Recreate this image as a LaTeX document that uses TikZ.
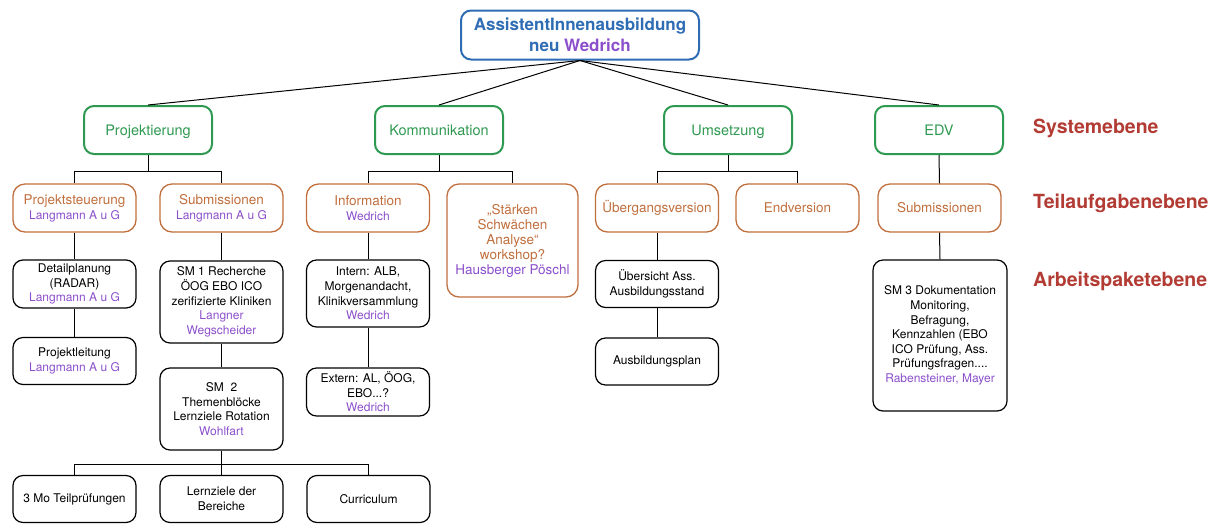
\documentclass[tikz,border=0pt]{standalone}
\usepackage{fontspec}
\setmainfont{TeX Gyre Heros}
\definecolor{blueT}{HTML}{2E6DB4}
\definecolor{greenT}{HTML}{2E9950}
\definecolor{orangeT}{HTML}{C06F3E}
\definecolor{purp}{HTML}{8B4FCB}
\definecolor{redL}{HTML}{B23B34}
\newcommand{\pu}[1]{{\color{purp}#1}}
\newcommand{\pus}[1]{{\color{purp}\fontsize{12}{15}\selectfont #1}}
\begin{document}
\begin{tikzpicture}[x=1pt,y=-1pt,
 box/.style={rectangle, rounded corners=10pt, align=center, inner sep=2pt},
 topbox/.style={box, draw=blueT, line width=2pt, minimum width=238pt, minimum height=49pt, text=blueT, font=\fontsize{17}{21}\selectfont\bfseries},
 sys/.style={box, draw=greenT, line width=2pt, minimum width=128pt, minimum height=48pt, text=greenT, font=\fontsize{14.5}{17}\selectfont, text height=14pt, text depth=3pt},
 sub/.style={box, rounded corners=12pt, draw=orangeT, line width=1.3pt, minimum width=123pt, minimum height=48pt, text=orangeT, font=\fontsize{13.5}{15}\selectfont},
 wp/.style={box, draw=black, line width=1.2pt, minimum width=123pt, minimum height=47pt, font=\fontsize{12}{14.6}\selectfont},
 lvl/.style={text=redL, font=\fontsize{19.5}{22}\selectfont\bfseries, anchor=west, inner sep=0pt},
 conn/.style={draw=black, line width=1pt}
]
\useasboundingbox (0,0) rectangle (1220,523);

\node[topbox] (root) at (580,35) {AssistentInnenausbildung\\neu \pu{Wedrich}};

\node[sys] (proj) at (148,130) {Projektierung};
\node[sys] (komm) at (439,130) {Kommunikation};
\node[sys] (ums) at (728,130) {Umsetzung};
\node[sys] (edv) at (939,130) {EDV};

\node[sub] (pst) at (74.5,208) {Projektsteuerung\\\pus{Langmann A u G}};
\node[sub] (subm) at (221.5,208) {Submissionen\\\pus{Langmann A u G}};
\node[sub] (info) at (368,208) {Information\\\pus{Wedrich}};
\node[sub, minimum width=131pt, minimum height=113pt] (swa) at (512.5,240.5) {„Stärken\\Schwächen\\Analyse“\\workshop?\\\pu{Hausberger Pöschl}};
\node[sub] (uebg) at (657,208) {Übergangsversion};
\node[sub] (endv) at (797.5,208) {Endversion};
\node[sub] (subm2) at (939.5,208) {Submissionen};

\node[wp, minimum height=48pt] (detail) at (74.5,284) {Detailplanung\\(RADAR)\\\pu{Langmann A u G}};
\node[wp] (pleit) at (74.5,361) {Projektleitung\\\pu{Langmann A u G}};
\node[wp, minimum height=82pt] (sm1) at (221.5,302) {SM 1 Recherche\\ÖOG EBO ICO\\zerifizierte Kliniken\\\pu{Langner}\\\pu{Wegscheider}};
\node[wp, minimum height=82pt] (sm2) at (221.5,409) {SM\ \ 2\\Themenblöcke\\Lernziele Rotation\\\pu{Wohlfart}};
\node[wp, minimum height=67pt] (intern) at (368,293.5) {Intern: ALB,\\Morgenandacht,\\Klinikversammlung\\\pu{Wedrich}};
\node[wp, minimum height=48pt] (extern) at (368,392) {Extern: AL, ÖOG,\\EBO...?\\\pu{Wedrich}};
\node[wp] (uebs) at (657,284) {Übersicht Ass.\\Ausbildungsstand};
\node[wp] (abpl) at (657,361.5) {Ausbildungsplan};
\node[wp, minimum width=134pt, minimum height=151pt] (sm3) at (940,335.5) {SM 3 Dokumentation\\Monitoring,\\Befragung,\\Kennzahlen (EBO\\ICO Prüfung, Ass.\\Prüfungsfragen....\\\pu{Rabensteiner, Mayer}};
\node[wp] (mo) at (74.5,499) {3 Mo Teilprüfungen};
\node[wp] (lz) at (221.5,499) {Lernziele der\\Bereiche};
\node[wp] (curr) at (368.5,499) {Curriculum};

\node[lvl] (l1) at (1033,128) {Systemebene};
\node[lvl] (l2) at (1033,203) {Teilaufgabenebene};
\node[lvl] (l3) at (1033,281) {Arbeitspaketebene};

\foreach \c in {proj,komm,ums,edv} \draw[conn] (root.south) -- (\c.north);
\draw[conn] (proj.south) -- ++(0,16) -| (pst.north);
\draw[conn] (proj.south) -- ++(0,16) -| (subm.north);
\draw[conn] (komm.south) -- ++(0,16) -| (info.north);
\draw[conn] (komm.south) -- ++(0,16) -| (swa.north);
\draw[conn] (ums.south) -- ++(0,16) -| (uebg.north);
\draw[conn] (ums.south) -- ++(0,16) -| (endv.north);
\draw[conn] (edv.south) -- (subm2.north);
\draw[conn] (pst.south) -- (detail.north);
\draw[conn] (detail.south) -- (pleit.north);
\draw[conn] (subm.south) -- (sm1.north);
\draw[conn] (sm1.south) -- (sm2.north);
\draw[conn] (info.south) -- (intern.north);
\draw[conn] (intern.south) -- (extern.north);
\draw[conn] (uebg.south) -- (uebs.north);
\draw[conn] (uebs.south) -- (abpl.north);
\draw[conn] (subm2.south) -- (sm3.north);
\draw[conn] (sm2.south) -- ++(0,14) -| (mo.north);
\draw[conn] (sm2.south) -- ++(0,14) -| (lz.north);
\draw[conn] (sm2.south) -- ++(0,14) -| (curr.north);
\end{tikzpicture}
\end{document}
